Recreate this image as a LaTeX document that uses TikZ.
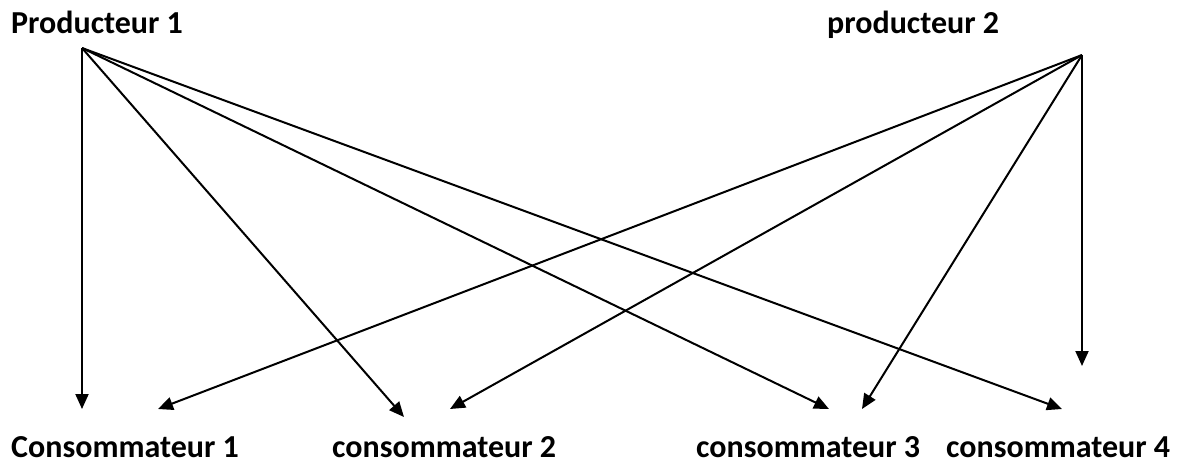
\documentclass[tikz,border=0pt]{standalone}
\usepackage{fontspec}
\setmainfont{Carlito}
\usepackage{tikz}
\usetikzlibrary{arrows.meta}

\begin{document}
\begin{tikzpicture}[x=1pt, y=-1pt, >={Triangle[length=15pt,width=13pt]},
                    every node/.style={font=\fontsize{32}{36}\selectfont\bfseries, inner sep=0pt},
                    flow/.style={->, line width=2pt}]
\useasboundingbox (0,0) rectangle (1178,466);

% producers and consumers
\node[anchor=base west] (P1) at (11,33) {Producteur 1};
\node[anchor=base west] (P2) at (827,33) {producteur 2};
\node[anchor=base west] (C1) at (11,457) {Consommateur 1};
\node[anchor=base west] (C2) at (332,457) {consommateur 2};
\node[anchor=base west] (C3) at (696,457) {consommateur 3};
\node[anchor=base west] (C4) at (946,457) {consommateur 4};

% where the arrows start and end
\coordinate (s1) at (82,48);
\coordinate (s2) at (1082,55);
\coordinate (e11) at (82,409);
\coordinate (e21) at (158,409);
\coordinate (e12) at (404,417);
\coordinate (e22) at (450,409);
\coordinate (e13) at (829,409);
\coordinate (e23) at (862,409);
\coordinate (e14) at (1062,409);
\coordinate (e24) at (1082,366);

\foreach \t in {e11,e12,e13,e14}
  \draw[flow] (s1) -- (\t);
\foreach \t in {e21,e22,e23,e24}
  \draw[flow] (s2) -- (\t);
\end{tikzpicture}
\end{document}
